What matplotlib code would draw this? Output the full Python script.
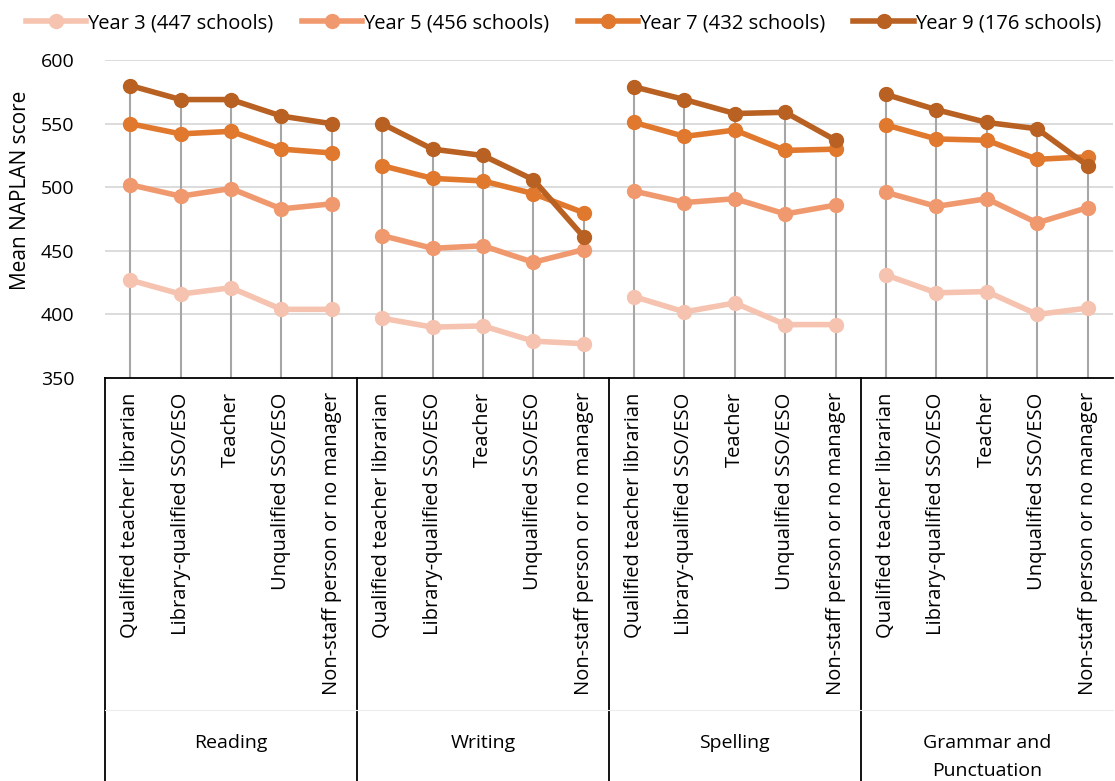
import matplotlib.pyplot as plt
import numpy as np

plt.rcParams["font.family"] = ["Open Sans", "DejaVu Sans"]

# data
domains = ["Reading", "Writing", "Spelling", "Grammar and\nPunctuation"]
roles = [
    "Qualified teacher librarian",
    "Library-qualified SSO/ESO",
    "Teacher",
    "Unqualified SSO/ESO",
    "Non-staff person or no manager",
]
series_names = [
    "Year 3 (447 schools)",
    "Year 5 (456 schools)",
    "Year 7 (432 schools)",
    "Year 9 (176 schools)",
]
year3 = [427, 416, 421, 404, 404,
         397, 390, 391, 379, 377,
         414, 402, 409, 392, 392,
         431, 417, 418, 400, 405]
year5 = [502, 493, 499, 483, 487,
         462, 452, 454, 441, 451,
         497, 488, 491, 479, 486,
         496, 485, 491, 472, 484]
year7 = [550, 542, 544, 530, 527,
         517, 507, 505, 495, 480,
         551, 540, 545, 529, 530,
         549, 538, 537, 522, 524]
year9 = [580, 569, 569, 556, 550,
         550, 530, 525, 506, 461,
         579, 569, 558, 559, 537,
         573, 561, 551, 546, 517]
colors = ["#F5C3AF", "#F0996F", "#E0782E", "#B86122"]

values = [year3, year5, year7, year9]
n_roles = len(roles)
n_cats = n_roles * len(domains)
x = np.arange(n_cats)

fig = plt.figure(figsize=(11.15, 7.81), dpi=100)
ax = fig.add_axes([0.0942, 0.516, 0.9038, 0.407])

# horizontal gridlines
for yv in range(400, 601, 50):
    ax.axhline(yv, color="#D9D9D9", lw=1.3, zorder=0)

# drop lines from top point to the axis
tops = np.max(np.array(values), axis=0)
ax.vlines(x, 350, tops, color="#A6A6A6", lw=1.5, zorder=1)

# draw each domain as a separate segment so lines don't join across groups
for vals, col, name in zip(values, colors, series_names):
    vals = np.array(vals)
    for g in range(len(domains)):
        sl = slice(g * n_roles, (g + 1) * n_roles)
        ax.plot(x[sl], vals[sl], color=col, lw=4, marker="o", ms=10,
                zorder=3, label=name if g == 0 else None)

ax.set_xlim(-0.5, n_cats - 0.5)
ax.set_ylim(350, 600)
ax.set_yticks(range(350, 601, 50))
ax.tick_params(axis="y", length=0, labelsize=14, pad=22)
ax.set_xticks([])
for s in ["top", "right", "left"]:
    ax.spines[s].set_visible(False)
ax.spines["bottom"].set_color("black")
ax.spines["bottom"].set_linewidth(1.3)
ax.set_ylabel("Mean NAPLAN score", fontsize=15)
ax.yaxis.set_label_coords(-0.073, 0.59)

# category labels and group box below the axis
trans = ax.get_xaxis_transform()
for i in range(n_cats):
    ax.text(x[i], -0.045, roles[i % n_roles], rotation=90, ha="center",
            va="top", fontsize=14.5, transform=trans, clip_on=False)

for g, dom in enumerate(domains):
    center = g * n_roles + (n_roles - 1) / 2
    ax.text(center, -1.12, dom, ha="center", va="top", fontsize=14,
            linespacing=1.7, transform=trans, clip_on=False)

for b in [-0.5, 4.5, 9.5, 14.5]:
    ax.plot([b, b], [0, -1.3], color="black", lw=1.3, transform=trans,
            clip_on=False)
ax.plot([-0.5, n_cats - 0.5], [-1.045, -1.045], color="#EDEDED", lw=0.8,
        transform=trans, clip_on=False)

ax.legend(loc="upper center", bbox_to_anchor=(0.455, 1.205), ncol=4,
          frameon=False, fontsize=14.5, handlelength=3.0, handletextpad=0.05,
          columnspacing=1.4)

fig.savefig("out.png", dpi=100)
